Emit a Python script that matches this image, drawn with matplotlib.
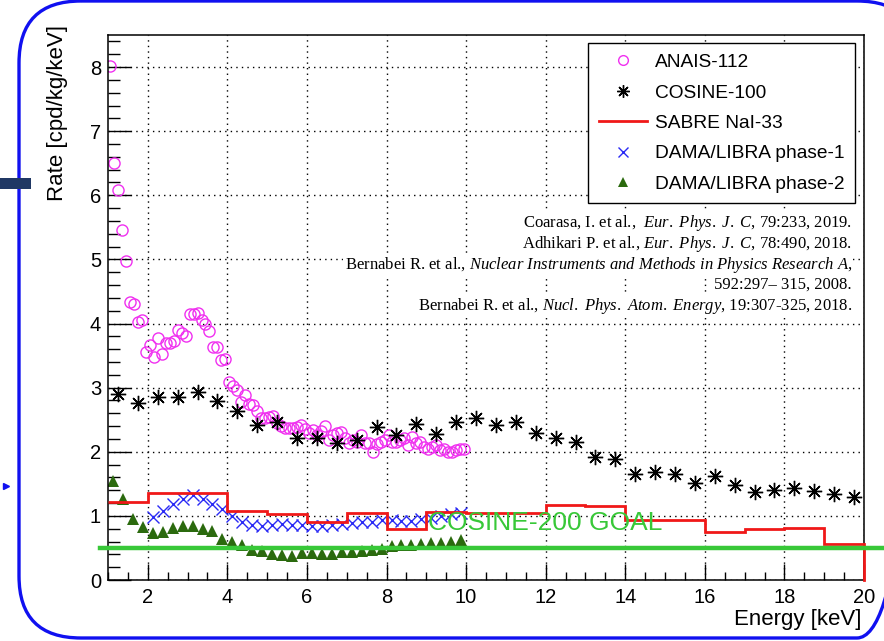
"""NaI(Tl) crystal background comparison: ANAIS, COSINE, SABRE, DAMA/LIBRA."""
import numpy as np
import matplotlib
matplotlib.use("Agg")
import matplotlib.pyplot as plt
from matplotlib.patches import FancyBboxPatch, Rectangle
from matplotlib.lines import Line2D

plt.rcParams['font.family'] = ['Liberation Sans', 'DejaVu Sans']
plt.rcParams['mathtext.fontset'] = 'custom'
plt.rcParams['mathtext.rm'] = 'Liberation Serif'
plt.rcParams['mathtext.it'] = 'Liberation Serif:italic'

# %%
# data (energy in keV, rate in cpd/kg/keV)
anais_bin0, anais_width = 1.0, 0.1
anais_rate = [8.02, 6.50, 6.08, 5.46, 4.98, 4.33, 4.31, 4.03, 4.05, 3.55,
              3.67, 3.48, 3.77, 3.52, 3.70, 3.69, 3.73, 3.90, 3.85, 3.81,
              4.15, 4.15, 4.16, 4.05, 3.99, 3.88, 3.64, 3.64, 3.43, 3.44,
              3.09, 3.02, 2.96, 2.78, 2.89, 2.75, 2.73, 2.63, 2.52, 2.52,
              2.55, 2.56, 2.45, 2.40, 2.37, 2.37, 2.37, 2.39, 2.42, 2.35,
              2.30, 2.34, 2.26, 2.33, 2.40, 2.18, 2.26, 2.30, 2.31, 2.22,
              2.13, 2.19, 2.16, 2.26, 2.14, 2.13, 2.00, 2.12, 2.15, 2.18,
              2.26, 2.16, 2.16, 2.19, 2.21, 2.11, 2.23, 2.13, 2.15, 2.08,
              2.04, 2.08, 2.11, 2.03, 2.04, 1.99, 1.99, 2.03, 2.04, 2.04]

cosine_bin0, cosine_width = 1.0, 0.5
cosine_rate = [2.90, 2.76, 2.86, 2.85, 2.93, 2.79, 2.64, 2.42, 2.47, 2.21,
               2.21, 2.13, 2.19, 2.38, 2.26, 2.43, 2.27, 2.47, 2.53, 2.41,
               2.46, 2.30, 2.22, 2.15, 1.92, 1.89, 1.65, 1.68, 1.66, 1.51,
               1.62, 1.48, 1.37, 1.40, 1.43, 1.39, 1.34, 1.29]

sabre_edges = [1, 2, 3, 4, 5, 6, 7, 8, 9, 10, 11, 12, 13, 14, 15, 16, 17, 18, 19, 20]
sabre_rate = [1.22, 1.35, 1.35, 1.08, 1.03, 0.91, 1.04, 0.80, 1.06, 1.04,
              1.04, 1.17, 1.15, 0.93, 0.94, 0.75, 0.80, 0.81, 0.56]

dama1_bin0, dama1_width = 2.0, 0.25
dama1_rate = [0.98, 1.07, 1.19, 1.27, 1.33, 1.27, 1.19, 1.10, 1.00, 0.91,
              0.86, 0.85, 0.86, 0.87, 0.86, 0.86, 0.85, 0.85, 0.86, 0.88,
              0.89, 0.90, 0.90, 0.93, 0.93, 0.92, 0.92, 0.95, 0.97, 1.00,
              1.03, 1.05]

dama2_bin0, dama2_width = 1.0, 0.25
dama2_rate = [1.55, 1.27, 0.95, 0.82, 0.74, 0.75, 0.81, 0.85, 0.84, 0.79,
              0.76, 0.64, 0.59, 0.54, 0.47, 0.46, 0.40, 0.39, 0.38, 0.42,
              0.42, 0.41, 0.41, 0.44, 0.44, 0.46, 0.47, 0.49, 0.53, 0.54,
              0.55, 0.56, 0.57, 0.58, 0.59, 0.62]

goal_rate = 0.5

refs = [r"Coarasa, I. et al.,  $\mathit{Eur.\ Phys.\ J.\ C}$, 79:233, 2019.",
        r"Adhikari P. et al., $\mathit{Eur.\ Phys.\ J.\ C}$, 78:490, 2018.",
        r"Bernabei R. et al., $\mathit{Nuclear\ Instruments\ and\ Methods\ in\ Physics\ Research\ A}$,",
        "592:297\u2013 315, 2008.",
        r"Bernabei R. et al., $\mathit{Nucl.\ Phys.\ Atom.\ Energy}$, 19:307-325, 2018."]


def centers(start, width, values):
    return start + width * (np.arange(len(values)) + 0.5)


# %%
W, H = 884, 641
fig = plt.figure(figsize=(W / 100, H / 100), dpi=100)

# slide decoration behind everything (pixel coordinates)
bg = fig.add_axes([0, 0, 1, 1], zorder=-5)
bg.set_xlim(0, W)
bg.set_ylim(H, 0)
bg.axis("off")
bg.add_patch(FancyBboxPatch((19, 1), 900, 637, boxstyle="round,pad=0,rounding_size=62",
                            fc="none", ec="#1010f0", lw=2.4))
bg.add_patch(Rectangle((0, 178), 31, 11, color="#203864", lw=0))
bg.plot([6], [486], marker=">", ms=5, color="#1010f0")

ax = fig.add_axes([108 / W, 1 - 580 / H, 756 / W, 545 / H])

magenta = "#f030f0"
ax.plot(centers(anais_bin0, anais_width, anais_rate), anais_rate, ls="none",
        marker="o", ms=8, mfc="none", mec=magenta, mew=1.0)
ax.plot(centers(cosine_bin0, cosine_width, cosine_rate), cosine_rate, ls="none",
        marker=(8, 2, 0), ms=11, color="black", mew=1.0)
ax.stairs(sabre_rate, sabre_edges, color="#f01818", lw=2.0, baseline=None, zorder=4)
ax.plot([sabre_edges[-1], sabre_edges[-1]], [sabre_rate[-1], 0], color="#f01818",
        lw=2.0, clip_on=False, zorder=5)
ax.plot(centers(dama1_bin0, dama1_width, dama1_rate), dama1_rate, ls="none",
        marker="x", ms=8, color="#2a2af5", mew=1.0)
ax.plot(centers(dama2_bin0, dama2_width, dama2_rate), dama2_rate, ls="none",
        marker="^", ms=8.5, color="#2b6a0e", mew=0)

# COSINE-200 goal line runs across the whole slide
ax.axhline(goal_rate, xmin=-8 / 756, xmax=(W - 108) / 756, color="#38c838",
           lw=3.2, clip_on=False, zorder=6)
ax.text(9.04, 0.89, "COSINE-200 GOAL", color="#38c838", fontsize=19,
        ha="left", va="center", zorder=7)

ax.set_xlim(1, 20)
ax.set_ylim(0, 8.5)
ax.set_xticks(np.arange(2, 21, 2))
ax.set_xticks(np.arange(1, 20.01, 0.5), minor=True)
ax.set_yticks(np.arange(0, 9, 1))
ax.set_yticks(np.arange(0, 8.5, 0.2), minor=True)
ax.grid(True, which="major", color="black", ls=(0, (1, 3)), lw=1.0)
ax.tick_params(axis="x", which="major", direction="in", length=11.5, width=1, pad=6,
               labelsize=14.5)
ax.tick_params(axis="x", which="minor", direction="in", length=5.8, width=1)
ax.tick_params(axis="y", which="major", direction="in", length=16.5, width=1, pad=5,
               labelsize=14.5)
ax.tick_params(axis="y", which="minor", direction="in", length=8.3, width=1)
for sp in ax.spines.values():
    sp.set_linewidth(1.1)

fig.text(57 / W, 1 - 25 / H, "Rate [cpd/kg/keV]", rotation=90, ha="center", va="top",
         fontsize=16)
fig.text(862 / W, 1 - 619 / H, "Energy [keV]", ha="right", va="center", fontsize=16)

handles = [
    Line2D([], [], ls="none", marker="o", ms=7, mfc="none", mec=magenta),
    Line2D([], [], ls="none", marker=(8, 2, 0), ms=9, color="black", mew=1.0),
    Line2D([], [], color="#f01818", lw=2.0),
    Line2D([], [], ls="none", marker="x", ms=7, color="#2a2af5"),
    Line2D([], [], ls="none", marker="^", ms=7, color="#2b6a0e", mew=0),
]
labels = ["ANAIS-112", "COSINE-100", "SABRE NaI-33", "DAMA/LIBRA phase-1",
          "DAMA/LIBRA phase-2"]
leg = ax.legend(handles, labels, loc="upper right", bbox_to_anchor=(0.988, 0.985),
                borderaxespad=0, fontsize=13.8, handlelength=2.5, handletextpad=0.41,
                labelspacing=0.68, borderpad=0.55, fancybox=False, framealpha=1,
                edgecolor="black")
leg.get_frame().set_linewidth(1.0)
leg.set_zorder(8)

ref_y = [223, 244, 265, 285, 306]
for txt, y in zip(refs, ref_y):
    fig.text(852 / W, 1 - y / H, txt, ha="right", va="center", fontsize=12,
             family="Liberation Serif", zorder=9,
             bbox=dict(fc="white", ec="none", pad=1))

fig.savefig("out.png", dpi=100)
